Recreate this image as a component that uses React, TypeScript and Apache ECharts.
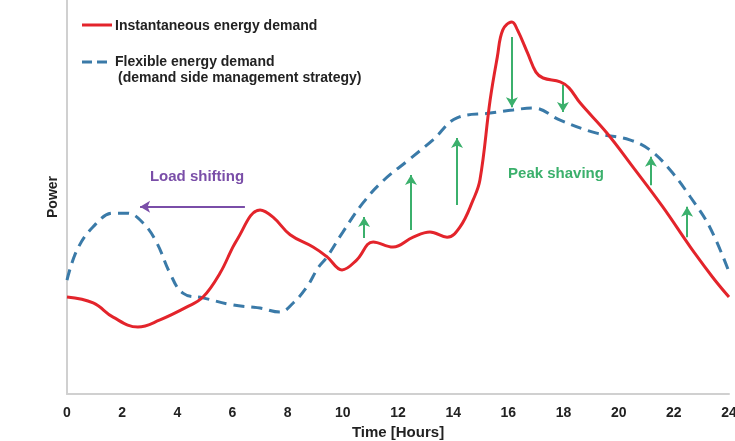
import React, { useEffect, useRef } from "react";
import * as echarts from "echarts";

// Instantaneous energy demand (hour, power in arbitrary units)
const redHours = [0, 0.95, 1.67, 2.57, 3.37, 4.35, 4.93, 5.55, 6.16, 7.0, 7.47, 8.09, 8.92, 9.43, 9.97, 10.5, 11.1, 11.82, 12.55, 13.16, 13.78, 14.25, 14.72, 14.97, 15.34, 15.6, 15.8, 16.13, 16.33, 16.7, 17.0, 17.26, 17.88, 18.2, 18.6, 19.58, 20.52, 21.6, 22.6, 23.4, 24];
const redPower = [24.6, 23.1, 19.5, 17.0, 18.8, 22.1, 24.6, 30.7, 39.1, 46.7, 44.9, 40.4, 37.3, 34.8, 31.5, 34.0, 38.6, 37.3, 39.8, 41.1, 39.8, 42.4, 49.2, 54.3, 74.6, 85.5, 92.4, 94.4, 92.4, 86.5, 81.7, 80.2, 79.2, 77.7, 73.9, 66.2, 57.6, 47.5, 37.3, 29.7, 24.6];

// Flexible energy demand (demand side management strategy)
const blueHours = [0, 0.36, 0.94, 1.67, 2.18, 2.76, 3.26, 3.73, 4.2, 4.93, 6.02, 7.0, 7.72, 8.2, 8.7, 9.1, 9.43, 10.0, 10.73, 11.46, 12.33, 13.27, 14.14, 15.34, 16.17, 16.9, 17.88, 19.2, 20.4, 21.14, 21.86, 22.6, 23.3, 24];
const bluePower = [28.9, 36.5, 42.4, 45.9, 45.9, 43.4, 38.3, 30.7, 25.6, 24.4, 22.6, 21.8, 20.8, 23.1, 27.2, 32.0, 34.8, 41.1, 48.5, 54.1, 59.1, 64.5, 70.1, 71.3, 72.1, 72.6, 69.5, 66.2, 64.5, 61.9, 56.9, 50.0, 42.4, 31.0];

// Green peak-shaving arrows: hour, start power, end power
const arrowHours = [10.77, 12.47, 14.14, 16.13, 17.98, 21.17, 22.48];
const arrowFrom = [39.6, 41.6, 48.0, 90.6, 78.4, 53.0, 39.8];
const arrowTo = [44.9, 55.6, 65.0, 72.8, 71.6, 60.2, 47.5];

// Purple load-shifting arrow
const shiftFromHour = 6.45;
const shiftToHour = 2.65;
const shiftPower = 47.5;

const xTicks = [0, 2, 4, 6, 8, 10, 12, 14, 16, 18, 20, 22, 24];

const FONT = "'Liberation Sans', Arial, sans-serif";

export default function App() {
  const ref = useRef<HTMLDivElement>(null);
  useEffect(() => {
    if (!ref.current) return;
    const chart = echarts.init(ref.current, null, { renderer: "svg" });
    const red = redHours.map((h, i) => [h, redPower[i]]);
    const blue = blueHours.map((h, i) => [h, bluePower[i]]);
    const greenArrows = arrowHours.map((h, i) => [
      { coord: [h, arrowFrom[i]] },
      { coord: [h, arrowTo[i]] },
    ]);
    chart.setOption({
      animation: false,
      grid: { left: 67, right: 6, top: 0, bottom: 47, outerBoundsMode: "none" },
      xAxis: {
        type: "value",
        min: 0,
        max: 24,
        interval: 2,
        axisLine: { show: true, lineStyle: { color: "#d0d0d0", width: 2 } },
        axisTick: { show: false },
        splitLine: { show: false },
        axisLabel: {
          color: "#222",
          fontFamily: FONT,
          fontWeight: "bold",
          fontSize: 14,
          margin: 11,
          formatter: (v: number) => (xTicks.includes(v) ? String(v) : ""),
        },
        name: "Time [Hours]",
        nameLocation: "middle",
        nameGap: 28,
        nameTextStyle: { color: "#222", fontFamily: FONT, fontWeight: "bold", fontSize: 15 },
      },
      yAxis: {
        type: "value",
        min: 0,
        max: 100,
        axisLine: { show: true, lineStyle: { color: "#d0d0d0", width: 2 } },
        axisTick: { show: false },
        axisLabel: { show: false },
        splitLine: { show: false },
        name: "Power",
        nameLocation: "middle",
        nameRotate: 90,
        nameGap: 8,
        nameTextStyle: { color: "#222", fontFamily: FONT, fontWeight: "bold", fontSize: 14 },
      },
      series: [
        {
          type: "line",
          data: blue,
          smooth: 0.4,
          showSymbol: false,
          symbol: "none",
          lineStyle: { color: "#3a7aa8", width: 3, type: [11, 7] },
          z: 2,
        },
        {
          type: "line",
          data: red,
          smooth: 0.4,
          showSymbol: false,
          symbol: "none",
          lineStyle: { color: "#e3242b", width: 3 },
          z: 3,
          markLine: {
            silent: true,
            symbol: ["none", "arrow"],
            symbolSize: [9, 10],
            label: { show: false },
            lineStyle: { color: "#3bb06c", width: 2, type: "solid" },
            data: [
              ...greenArrows,
              [
                { coord: [shiftFromHour, shiftPower], lineStyle: { color: "#7a4ea8", width: 2 } },
                { coord: [shiftToHour, shiftPower] },
              ],
            ],
          },
        },
      ],
      graphic: [
        { type: "line", shape: { x1: 82, y1: 25, x2: 112, y2: 25 }, style: { stroke: "#e3242b", lineWidth: 3 } },
        {
          type: "text",
          x: 115,
          y: 25,
          style: { text: "Instantaneous energy demand", fill: "#222", font: `bold 14px ${FONT}`, verticalAlign: "middle" },
        },
        { type: "line", shape: { x1: 82, y1: 62, x2: 112, y2: 62 }, style: { stroke: "#3a7aa8", lineWidth: 3, lineDash: [10, 5] } },
        {
          type: "text",
          x: 115,
          y: 61,
          style: { text: "Flexible energy demand", fill: "#222", font: `bold 14px ${FONT}`, verticalAlign: "middle" },
        },
        {
          type: "text",
          x: 118,
          y: 77,
          style: { text: "(demand side management strategy)", fill: "#222", font: `bold 14px ${FONT}`, verticalAlign: "middle" },
        },
        {
          type: "text",
          x: 197,
          y: 175,
          style: { text: "Load shifting", fill: "#7a4ea8", font: `bold 15px ${FONT}`, align: "center", verticalAlign: "middle" },
        },
        {
          type: "text",
          x: 556,
          y: 172,
          style: { text: "Peak shaving", fill: "#3bb06c", font: `bold 15px ${FONT}`, align: "center", verticalAlign: "middle" },
        },
      ],
    });
    return () => chart.dispose();
  }, []);
  return <div ref={ref} style={{ position: "fixed", left: 0, top: 0, width: 735, height: 441 }} />;
}
